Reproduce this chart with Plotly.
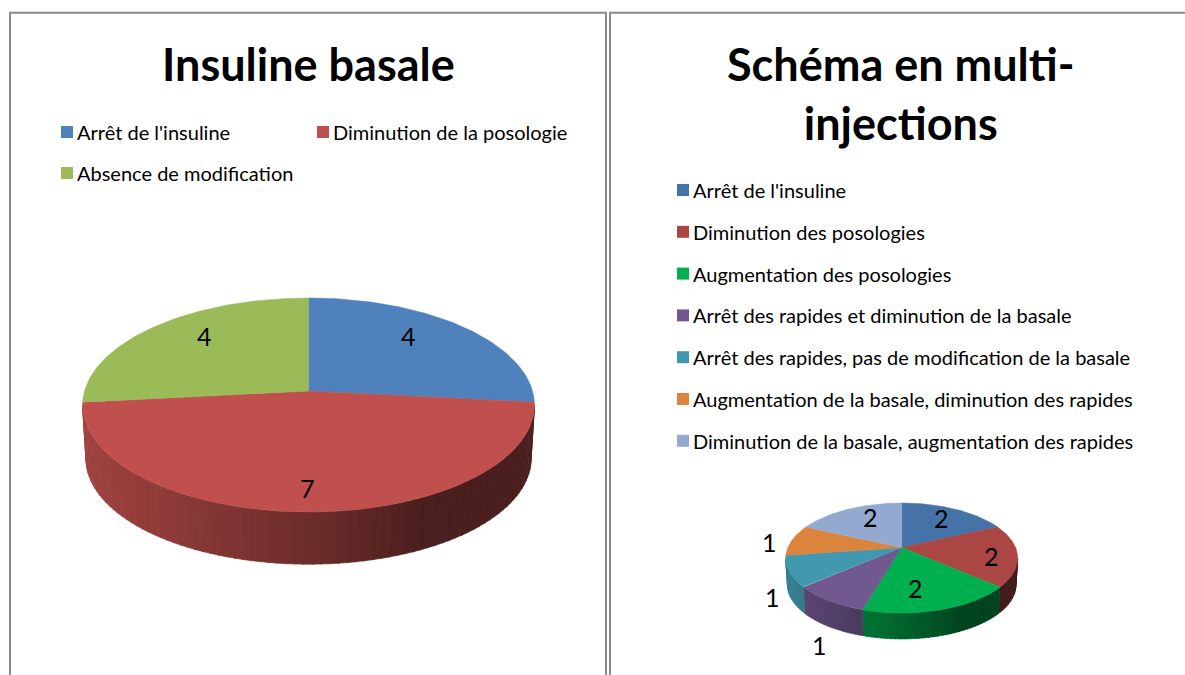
import numpy as np
import plotly.graph_objects as go

# ---------- data ----------
left_title = "Insuline basale"
left_labels = ["Arrêt de l'insuline", "Diminution de la posologie", "Absence de modification"]
left_values = [4, 7, 4]
left_colors = ["#4F81BD", "#C0504D", "#9BBB59"]

right_title = "Schéma en multi-<br>injections"
right_labels = ["Arrêt de l'insuline", "Diminution des posologies", "Augmentation des posologies",
                "Arrêt des rapides et diminution de la basale",
                "Arrêt des rapides, pas de modification de la basale",
                "Augmentation de la basale, diminution des rapides",
                "Diminution de la basale, augmentation des rapides"]
right_values = [2, 2, 2, 1, 1, 1, 2]
right_colors = ["#4572A7", "#AA4643", "#00B050", "#71588F", "#4198AF", "#DB843D", "#93A9CF"]

FONT = "Lato"
TXT = "#000000"


def hex2rgb(h):
    return np.array([int(h[i:i + 2], 16) for i in (1, 3, 5)], float)


def project(theta, cx, cy, R, Ry, k):
    """Perspective projection of a unit-disk point; theta is clockwise from 12 o'clock."""
    X, Y = np.sin(theta), np.cos(theta)
    s = 1 / (1 + k * Y)
    return cx + R * X * s, cy - Ry * Y * s


def draw_pie(fig, values, colors, cx, cy, R, Ry, k, depth, shrink, labels_pos, names):
    total = sum(values)
    edges = np.cumsum([0] + list(values)) / total * 2 * np.pi
    rim_lo = np.arccos(-k)
    rim_hi = 2 * np.pi - rim_lo
    for a0, a1, col in zip(edges[:-1], edges[1:], colors):
        lo, hi = max(a0, rim_lo), min(a1, rim_hi)
        if hi <= lo:
            continue
        n = max(2, int((hi - lo) / np.radians(2)) + 1)
        th = np.linspace(lo, hi, n + 1)
        base = hex2rgb(col)
        for t0, t1 in zip(th[:-1], th[1:]):
            tt = np.linspace(t0, min(t1 + 0.005, hi), 3)
            xt, yt = project(tt, cx, cy, R, Ry, k)
            xb, yb = project(tt[::-1], cx, cy + depth, R * shrink, Ry * shrink, k)
            # shade: light at left side of the wall, dark from three quarters on
            u = (cx + R - 0.5 * (xt[0] + xt[-1])) / (2 * R)
            f = 0.39 + 0.44 * np.clip((u - 0.25) / 0.75, 0, 1) ** 0.85
            c = np.clip(base * f, 0, 255).astype(int)
            fig.add_trace(go.Scatter(x=np.r_[xt, xb, xt[0]], y=np.r_[yt, yb, yt[0]], mode="lines",
                                     fill="toself", fillcolor=f"rgb({c[0]},{c[1]},{c[2]})",
                                     line=dict(width=0.6, color=f"rgb({c[0]},{c[1]},{c[2]})"),
                                     hoverinfo="skip", showlegend=False))
    # top face
    for a0, a1, col, name, v in zip(edges[:-1], edges[1:], colors, names, values):
        th = np.linspace(a0, a1, 80)
        x, y = project(th, cx, cy, R, Ry, k)
        fig.add_trace(go.Scatter(x=np.r_[cx, x, cx], y=np.r_[cy, y, cy], mode="lines", fill="toself",
                                 fillcolor=col, line=dict(width=0.5, color=col),
                                 name=name, text=str(v), hoverinfo="text", showlegend=False))
    # value labels
    for (lx, ly), v in zip(labels_pos, values):
        fig.add_annotation(x=lx, y=ly, text=str(v), showarrow=False, xanchor="center", yanchor="middle",
                           font=dict(family=FONT, size=25, color=TXT))


fig = go.Figure()

draw_pie(fig, left_values, left_colors, 308.5, 391, 224, 105.2, 0.1308, 54, 0.985,
         [(408, 336), (307, 488), (204, 336)], left_labels)
draw_pie(fig, right_values, right_colors, 901.7, 547.5, 113.9, 53, 0.19, 27, 0.985,
         [(941, 518), (991, 556), (915, 588), (819, 645), (772, 597), (769, 542), (870, 517)], right_labels)

# panel frames
for x0, x1 in ((10, 606), (610, 1200)):
    fig.add_shape(type="rect", xref="x", yref="y", x0=x0, x1=x1, y0=12.7, y1=700,
                  line=dict(color="#8C8C8C", width=2), fillcolor="rgba(0,0,0,0)", layer="below")

# titles
fig.add_annotation(x=308, y=64, text=f"<b>{left_title}</b>", showarrow=False, xanchor="center", yanchor="middle",
                   font=dict(family=FONT, size=45, color=TXT))
fig.add_annotation(x=901, y=93, text=f"<b>{right_title}</b>", showarrow=False, xanchor="center", yanchor="middle",
                   align="center", font=dict(family=FONT, size=45, color=TXT))


def legend_item(x, y, label, color):
    fig.add_trace(go.Scatter(x=[x], y=[y], mode="markers", marker=dict(symbol="square", size=12, color=color),
                             hoverinfo="skip", showlegend=False))
    fig.add_annotation(x=x + 8, y=y, text=label, showarrow=False, xanchor="left", yanchor="middle",
                       font=dict(family=FONT, size=20, color=TXT))


for (lx, ly), lab, col in zip([(67, 132), (323, 132), (67, 173)], left_labels, left_colors):
    legend_item(lx, ly, lab, col)
for i, (lab, col) in enumerate(zip(right_labels, right_colors)):
    legend_item(683, 190 + i * 41.8, lab, col)

fig.update_layout(
    width=1185, height=675, margin=dict(l=0, r=0, t=0, b=0), paper_bgcolor="white", plot_bgcolor="white",
    xaxis=dict(range=[0, 1185], visible=False, fixedrange=True),
    yaxis=dict(range=[675, 0], visible=False, fixedrange=True),
    showlegend=False,
)
post = """
document.body.style.margin = '0';
var st = document.createElement('style');
st.textContent = 'svg text { font-variant-ligatures: none; }';
document.head.appendChild(st);
"""
fig.write_html("out.html", config={"displayModeBar": False}, post_script=post)
